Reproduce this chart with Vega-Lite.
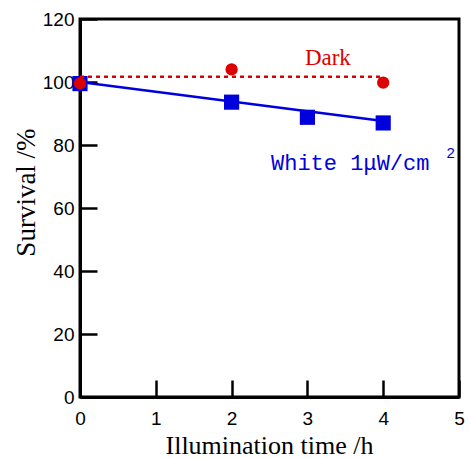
{
  "$schema": "https://vega.github.io/schema/vega-lite/v6.json",
  "width": 379,
  "height": 378,
  "autosize": "none",
  "padding": {"left": 80, "top": 19, "right": 11, "bottom": 62},
  "background": "white",
  "config": {
    "view": {"stroke": "black", "strokeWidth": 3},
    "axis": {
      "domainColor": "black", "domainWidth": 3, "tickColor": "black", "tickWidth": 2.5,
      "tickSize": -17, "labelFont": "Liberation Sans", "labelFontSize": 19, "labelColor": "black",
      "labelFlush": false,
      "titleFont": "Liberation Serif", "titleFontSize": 26, "titleFontWeight": "normal", "titleColor": "black",
      "grid": false
    }
  },
  "datasets": {
    "white": [{"t": 0, "s": 99.5}, {"t": 2, "s": 93.6}, {"t": 3, "s": 88.8}, {"t": 4, "s": 87.0}],
    "whitefit": [{"t": 0, "s": 100}, {"t": 4, "s": 87.6}],
    "dark": [{"t": 0, "s": 99.6}, {"t": 2, "s": 104}, {"t": 4, "s": 99.8}],
    "darkline": [{"t": 0, "s": 101.7}, {"t": 4, "s": 101.7}]
  },
  "encoding": {
    "x": {"field": "t", "type": "quantitative", "scale": {"domain": [0, 5], "nice": false},
      "axis": {"values": [0, 1, 2, 3, 4, 5], "title": "Illumination time /h", "labelPadding": 29,
        "titleX": 189, "titleY": 56, "titleBaseline": "alphabetic", "titleAlign": "center"}},
    "y": {"field": "s", "type": "quantitative", "scale": {"domain": [0, 120], "nice": false},
      "axis": {"values": [0, 20, 40, 60, 80, 100, 120], "title": "Survival /%", "labelPadding": 23,
        "titleX": -54, "titleY": 173, "titleBaseline": "middle", "titleAlign": "center", "titleAngle": -90, "titleFontSize": 27}}
  },
  "layer": [
    {"data": {"name": "whitefit"}, "mark": {"type": "line", "color": "#0000dd", "strokeWidth": 2.5}},
    {"data": {"name": "white"}, "mark": {"type": "point", "shape": "square", "filled": true, "color": "#0000dd", "size": 230, "opacity": 1}},
    {"data": {"name": "darkline"}, "mark": {"type": "line", "color": "#dd0000", "strokeWidth": 2.5, "strokeDash": [4, 4]}},
    {"data": {"name": "dark"}, "mark": {"type": "point", "shape": "circle", "filled": true, "color": "#dd0000", "size": 150, "opacity": 1}},
    {"data": {"values": [{"t": 3.27, "s": 107.6, "label": "Dark"}]},
      "mark": {"type": "text", "font": "Liberation Serif", "fontSize": 23, "color": "#dd0000"},
      "encoding": {"text": {"field": "label"}}},
    {"data": {"values": [{"t": 2.52, "s": 74.3, "label": "White 1μW/cm"}]},
      "mark": {"type": "text", "font": "Liberation Mono", "fontSize": 22, "color": "#0000dd", "align": "left"},
      "encoding": {"text": {"field": "label"}}},
    {"data": {"values": [{"t": 4.89, "s": 77.5, "label": "2"}]},
      "mark": {"type": "text", "font": "Liberation Sans", "fontSize": 15, "color": "#0000dd"},
      "encoding": {"text": {"field": "label"}}}
  ]
}
